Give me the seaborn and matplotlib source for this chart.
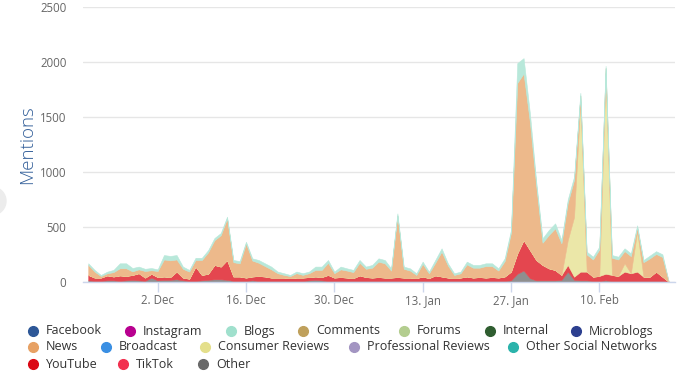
import numpy as np
import pandas as pd
import matplotlib
matplotlib.use("Agg")
import matplotlib.pyplot as plt
import matplotlib.dates as mdates
from matplotlib.colors import to_rgb
from matplotlib.lines import Line2D
from matplotlib.patches import Ellipse
import seaborn as sns

# daily mentions, 21 Nov - 21 Feb
dates = pd.date_range("2024-11-21", "2025-02-21", freq="D")

other = [15, 10, 10, 15, 15, 10, 15, 20, 15, 10,
         40, 15, 20, 20, 25, 15, 10, 10, 15, 20,
         25, 25, 20, 10, 10, 10, 15, 10, 10, 10,
         10, 10, 10, 10, 10, 15, 20, 15, 10, 10,
         10, 10, 10, 10, 10, 10, 10, 10, 10, 10,
         10, 10, 10, 10, 10, 10, 10, 10, 10, 10,
         10, 10, 10, 10, 10, 10, 10, 15, 75, 105,
         35, 15, 15, 15, 15, 20, 94, 20, 15, 15,
         10, 10, 15, 10, 10, 10, 10, 10, 10, 10,
         10, 10, 0]

youtube = [49, 30, 30, 45, 35, 50, 40, 44, 65, 30,
           35, 30, 30, 25, 70, 25, 20, 130, 49, 55,
           130, 115, 180, 40, 40, 30, 35, 45, 40, 30,
           30, 30, 25, 30, 30, 30, 30, 30, 54, 30,
           35, 30, 25, 50, 35, 30, 35, 30, 30, 35,
           30, 30, 25, 40, 25, 50, 40, 30, 25, 30,
           40, 30, 35, 30, 35, 30, 40, 79, 185, 277,
           256, 185, 140, 109, 94, 44, 61, 28, 79, 79,
           38, 45, 60, 54, 45, 84, 69, 84, 38, 38,
           84, 38, 3]

consumer = [0] * 76 + [225, 542, 1546, 6,
                       0, 0, 1825, 0, 0, 76, 0, 366, 0, 0,
                       0, 0, 0]

news = [91, 55, 14, 19, 40, 65, 70, 33, 35, 60,
        32, 55, 155, 152, 110, 80, 65, 60, 136, 195,
        225, 285, 379, 130, 120, 311, 145, 120, 95, 75,
        40, 25, 19, 40, 25, 35, 60, 65, 111, 40,
        70, 64, 55, 115, 75, 90, 140, 130, 64, 559,
        80, 64, 29, 115, 44, 115, 226, 110, 29, 39,
        110, 90, 85, 105, 100, 64, 140, 354, 1550, 1513,
        1162, 675, 202, 304, 379, 288, 340, 338, 55, 151,
        157, 241, 45, 156, 150, 111, 156, 35, 132, 167,
        161, 179, 2]

blogs = [15, 15, 10, 15, 20, 45, 45, 30, 25, 20,
         20, 15, 40, 40, 40, 20, 15, 20, 20, 20,
         20, 20, 15, 20, 20, 15, 20, 25, 25, 25,
         15, 15, 10, 15, 15, 15, 30, 30, 25, 15,
         25, 20, 20, 25, 20, 25, 30, 30, 20, 20,
         20, 20, 15, 20, 15, 25, 30, 20, 15, 15,
         25, 25, 25, 25, 25, 20, 25, 25, 180, 140,
         80, 40, 40, 45, 45, 30, 30, 30, 25, 25,
         25, 25, 20, 25, 25, 25, 25, 20, 20, 25,
         25, 25, 0]

categories = ["Facebook", "Instagram", "Blogs", "Comments", "Forums", "Internal", "Microblogs",
              "News", "Broadcast", "Consumer Reviews", "Professional Reviews", "Other Social Networks",
              "YouTube", "TikTok", "Other"]
colors = {"Facebook": "#2d5797", "Instagram": "#b8008f", "Blogs": "#a0e0cd", "Comments": "#bfa05c",
          "Forums": "#b3cd8f", "Internal": "#2f5d30", "Microblogs": "#2c3f8f", "News": "#e7a164",
          "Broadcast": "#3a8fe3", "Consumer Reviews": "#e4df8b", "Professional Reviews": "#a395c2",
          "Other Social Networks": "#2bb3ab", "YouTube": "#db0814", "TikTok": "#f2304f",
          "Other": "#696969"}


def faded(c, a=0.75):
    r = np.array(to_rgb(c))
    return tuple(r * a + (1 - a))


sns.set_theme(style="white")
plt.rcParams["font.family"] = ["Open Sans", "DejaVu Sans"]

fig = plt.figure(figsize=(6.92, 3.82), dpi=100)
ax = fig.add_axes([83 / 692, 1 - 282 / 382, (675 - 83) / 692, (282 - 7) / 382])

layers = [("Other", other), ("YouTube", youtube), ("Consumer Reviews", consumer),
          ("News", news), ("Blogs", blogs)]
fills = [faded(colors[n]) for n, _ in layers]
ax.stackplot(dates, *[v for _, v in layers], colors=fills, edgecolor="face", linewidth=0.4)

ax.set_ylim(0, 2500)
ax.set_yticks([0, 500, 1000, 1500, 2000, 2500])
ax.set_xlim(dates[0] - pd.Timedelta(hours=20), dates[-1] + pd.Timedelta(hours=24))
ax.set_xticks(pd.date_range("2024-12-02", periods=6, freq="14D"))
ax.xaxis.set_major_formatter(mdates.DateFormatter("%-d. %b"))

ax.yaxis.grid(True, color="#e6e6e6", linewidth=1)
ax.set_axisbelow(True)
for s in ["left", "top", "right"]:
    ax.spines[s].set_visible(False)
ax.spines["bottom"].set_color("#ccd6eb")
ax.spines["bottom"].set_linewidth(1)
ax.spines["bottom"].set_zorder(5)

ax.tick_params(axis="y", length=0, pad=12, labelsize=8.3, labelcolor="#666666")
ax.tick_params(axis="x", bottom=True, length=7, width=1, color="#ccd6eb", pad=2,
               labelsize=8.3, labelcolor="#666666")

fig.text(27 / 692, 1 - 145 / 382, "Mentions", rotation=90, color="#34609a",
         fontsize=13.5, fontweight="light", ha="center", va="center")

# legend placed like the original flow layout
legend_pos = {"Facebook": (33, 331), "Instagram": (130, 331), "Blogs": (231, 331),
              "Comments": (303, 331), "Forums": (404, 331), "Internal": (490, 331),
              "Microblogs": (576, 331),
              "News": (33, 347), "Broadcast": (106, 347), "Consumer Reviews": (205, 347),
              "Professional Reviews": (354, 347), "Other Social Networks": (513, 347),
              "YouTube": (33, 364), "TikTok": (123, 364), "Other": (203, 364)}
for name in categories:
    px, py = legend_pos[name]
    fig.add_artist(Line2D([px / 692], [1 - py / 382], marker="o", markersize=7,
                          color=colors[name], linestyle="none", transform=fig.transFigure))
    fig.text((px + 13) / 692, 1 - py / 382, name, fontsize=9, color="#333333",
             ha="left", va="center")

# faint round button at left edge
fig.add_artist(Ellipse((-8 / 692, 1 - 201 / 382), 28 / 692, 28 / 382,
                       transform=fig.transFigure, color="#ececec", zorder=0))

fig.savefig("out.png", dpi=100)
